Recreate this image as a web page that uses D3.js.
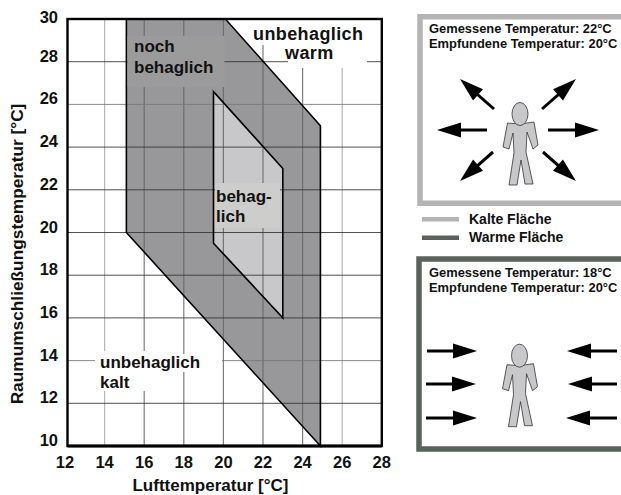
<!DOCTYPE html>
<html lang="de">
<head>
  <meta charset="UTF-8">
  <title>Behaglichkeitsfeld</title>
  <script src="https://d3js.org/d3.v7.min.js"></script>
  <style>
    body { margin: 0; background: #fff; }
    svg { display: block; }
    text { font-family: "Liberation Sans", Arial, sans-serif; font-weight: bold; fill: #111; }
    .tick-label { font-size: 16.5px; }
    .axis-label { font-size: 17px; }
    .y-label { font-size: 17.3px; }
    .zone-label { font-size: 17px; }
    .zone-label-big { font-size: 18px; letter-spacing: 0.4px; }
    .panel-label { font-size: 12.9px; }
    .legend-label { font-size: 14px; }
  </style>
</head>
<body>
  <svg width="621" height="495"></svg>

  <script>
    const xTicks = [12, 14, 16, 18, 20, 22, 24, 26, 28];
    const yTicks = [10, 12, 14, 16, 18, 20, 22, 24, 26, 28, 30];
    // [Lufttemperatur, Raumumschliessungstemperatur]
    const outerZone = [[15.1, 30], [20.1, 30], [24.9, 25], [24.9, 10], [15.1, 20]];
    const innerZone = [[19.5, 26.6], [23, 23], [23, 16], [19.5, 19.5]];
    const coldPanelText = ["Gemessene Temperatur: 22°C", "Empfundene Temperatur: 20°C"];
    const warmPanelText = ["Gemessene Temperatur: 18°C", "Empfundene Temperatur: 20°C"];
    const legendItems = ["Kalte Fläche", "Warme Fläche"];

    const svg = d3.select("svg");

    const x = d3.scaleLinear().domain([12, 28]).range([65, 381.8]);
    const y = d3.scaleLinear().domain([10, 30]).range([446, 19]);
    const frameLeft = 67.5;

    const line = d3.line().x(d => x(d[0])).y(d => y(d[1]));
    const closed = pts => line(pts) + "Z";

    // Zones
    svg.append("path").attr("d", closed(outerZone)).attr("fill", "#98989a");
    svg.append("path").attr("d", closed(innerZone)).attr("fill", "#c8c8ca");

    // Grid
    svg.append("g").selectAll("line")
      .data(xTicks.slice(1, -1))
      .join("line")
      .attr("x1", d => x(d)).attr("x2", d => x(d))
      .attr("y1", y(30)).attr("y2", y(10))
      .attr("stroke", d => d == 14 || d == 26 ? "#aaa" : "#666")
      .attr("stroke-opacity", 0.85)
      .attr("stroke-width", 1.2);
    svg.append("g").selectAll("line")
      .data(yTicks.slice(1, -1))
      .join("line")
      .attr("x1", frameLeft).attr("x2", x(28))
      .attr("y1", d => y(d)).attr("y2", d => y(d))
      .attr("stroke", d => d == 26 || d == 14 ? "#777" : "#333")
      .attr("stroke-opacity", 0.85)
      .attr("stroke-width", 1);

    // Zone outlines above the grid
    svg.append("path").attr("d", closed(outerZone))
      .attr("fill", "none").attr("stroke", "#000").attr("stroke-width", 1.6);
    svg.append("path").attr("d", closed(innerZone))
      .attr("fill", "none").attr("stroke", "#000").attr("stroke-width", 1.6);

    // Label backgrounds
    const boxes = [
      [127.5, 36, 97, 51, "#9b9b9c"],
      [251, 20, 129, 25, "#fff"],
      [288, 45, 79, 23, "#fff"],
      [95, 351, 61, 40, "#fff"],
      [156, 354, 66, 18, "#fff"],
      [215, 183, 65, 45, "#cdcdcb"]
    ];
    svg.append("g").selectAll("rect")
      .data(boxes)
      .join("rect")
      .attr("x", d => d[0]).attr("y", d => d[1])
      .attr("width", d => d[2]).attr("height", d => d[3])
      .attr("fill", d => d[4]);

    // Frame
    svg.append("rect")
      .attr("x", frameLeft).attr("y", y(30))
      .attr("width", x(28) - frameLeft).attr("height", y(10) - y(30))
      .attr("fill", "none").attr("stroke", "#000").attr("stroke-width", 2.4);
    svg.append("line")
      .attr("x1", frameLeft).attr("x2", x(28))
      .attr("y1", y(10)).attr("y2", y(10))
      .attr("stroke", "#000").attr("stroke-width", 3);

    // Tick labels
    svg.append("g").selectAll("text")
      .data(xTicks)
      .join("text")
      .attr("class", "tick-label")
      .attr("x", d => x(d))
      .attr("y", 468)
      .attr("text-anchor", "middle")
      .text(d => d);
    svg.append("g").selectAll("text")
      .data(yTicks)
      .join("text")
      .attr("class", "tick-label")
      .attr("x", 58)
      .attr("y", d => d == 30 ? y(d) + 4 : y(d))
      .attr("text-anchor", "end")
      .text(d => d);

    // Axis labels
    svg.append("text")
      .attr("class", "axis-label")
      .attr("x", 210.5).attr("y", 491)
      .attr("text-anchor", "middle")
      .text("Lufttemperatur [°C]");
    svg.append("text")
      .attr("class", "y-label")
      .attr("transform", "translate(23,254) rotate(-90)")
      .attr("text-anchor", "middle")
      .text("Raumumschließungstemperatur [°C]");

    // Zone labels
    const zoneLabels = [
      ["noch", 134, 52, "zone-label"],
      ["behaglich", 134, 73, "zone-label"],
      ["unbehaglich", 253, 40, "zone-label-big"],
      ["warm", 285, 59, "zone-label-big"],
      ["unbehaglich", 100, 368, "zone-label"],
      ["kalt", 100, 388, "zone-label"],
      ["behag-", 216, 202, "zone-label"],
      ["lich", 216, 222, "zone-label"]
    ];
    svg.append("g").selectAll("text")
      .data(zoneLabels)
      .join("text")
      .attr("class", d => d[3])
      .attr("x", d => d[1]).attr("y", d => d[2])
      .text(d => d[0]);

    // Right hand panels
    function drawPerson(cx, cy) {
      const g = svg.append("g").attr("transform", `translate(${cx},${cy})`);
      g.append("path")
        .attr("d", "M-12.5,-19 L-17,5 L-11,7 L-7,-9 L-6,11 L-11,43 L-3,43 L1,18 L5,42 L13,42 L6,10 L7,-10 L13,7 L18,3 L14,-20 L0,-18 Z")
        .attr("fill", "#c8c8ca").attr("stroke", "#333").attr("stroke-width", 0.8);
      g.append("ellipse")
        .attr("cx", 0).attr("cy", -28).attr("rx", 8).attr("ry", 11.5)
        .attr("fill", "#c8c8ca").attr("stroke", "#333").attr("stroke-width", 0.8);
    }

    function drawArrow(x1, y1, x2, y2) {
      const a = Math.atan2(y2 - y1, x2 - x1) * 180 / Math.PI;
      const len = Math.hypot(x2 - x1, y2 - y1);
      const g = svg.append("g").attr("transform", `translate(${x1},${y1}) rotate(${a})`);
      g.append("line").attr("x1", 0).attr("x2", len - 14).attr("stroke", "#000").attr("stroke-width", 3);
      g.append("path")
        .attr("d", `M${len},0 L${len - 24},-7.5 L${len - 24},7.5 Z`)
        .attr("fill", "#000");
    }

    function drawPanel(px, py, pw, ph, color, lines, textX, textY) {
      svg.append("rect")
        .attr("x", px).attr("y", py).attr("width", pw).attr("height", ph)
        .attr("fill", "#fff").attr("stroke", color).attr("stroke-width", 5.5);
      svg.selectAll(null)
        .data(lines)
        .enter().append("text")
        .attr("class", "panel-label")
        .attr("x", textX)
        .attr("y", (d, i) => textY + i * 15.5)
        .text(d => d);
    }

    drawPanel(420, 16.75, 215, 186.5, "#b4b4b4", coldPanelText, 429, 32.7);
    drawPanel(419, 259, 215, 190, "#5a625c", warmPanelText, 429, 276.5);

    drawPerson(520, 142);
    drawPerson(519.5, 383.7);

    const coldArrows = [
      [494, 109, 460, 79], [542, 109, 576, 79],
      [487, 130, 437, 130], [548, 130, 599, 130],
      [493, 152, 460, 181], [543, 152, 576, 181]
    ];
    coldArrows.forEach(d => drawArrow(...d));

    const warmArrows = [
      [427, 351, 477, 351], [426, 384, 476, 384], [426, 418, 477, 418],
      [617, 351, 567, 351], [617, 384, 568, 384], [617, 418, 566, 418]
    ];
    warmArrows.forEach(d => drawArrow(...d));

    // Legend
    const legendColors = ["#b4b4b4", "#5a625c"];
    svg.selectAll(".legend-swatch")
      .data(legendItems)
      .join("rect")
      .attr("class", "legend-swatch")
      .attr("x", 422).attr("y", (d, i) => 217 + i * 18.5)
      .attr("width", 37).attr("height", 4.5)
      .attr("fill", (d, i) => legendColors[i]);
    svg.selectAll(".legend-label")
      .data(legendItems)
      .join("text")
      .attr("class", "legend-label")
      .attr("x", 469).attr("y", (d, i) => 224 + i * 17.7)
      .text(d => d);
  </script>
</body>
</html>
